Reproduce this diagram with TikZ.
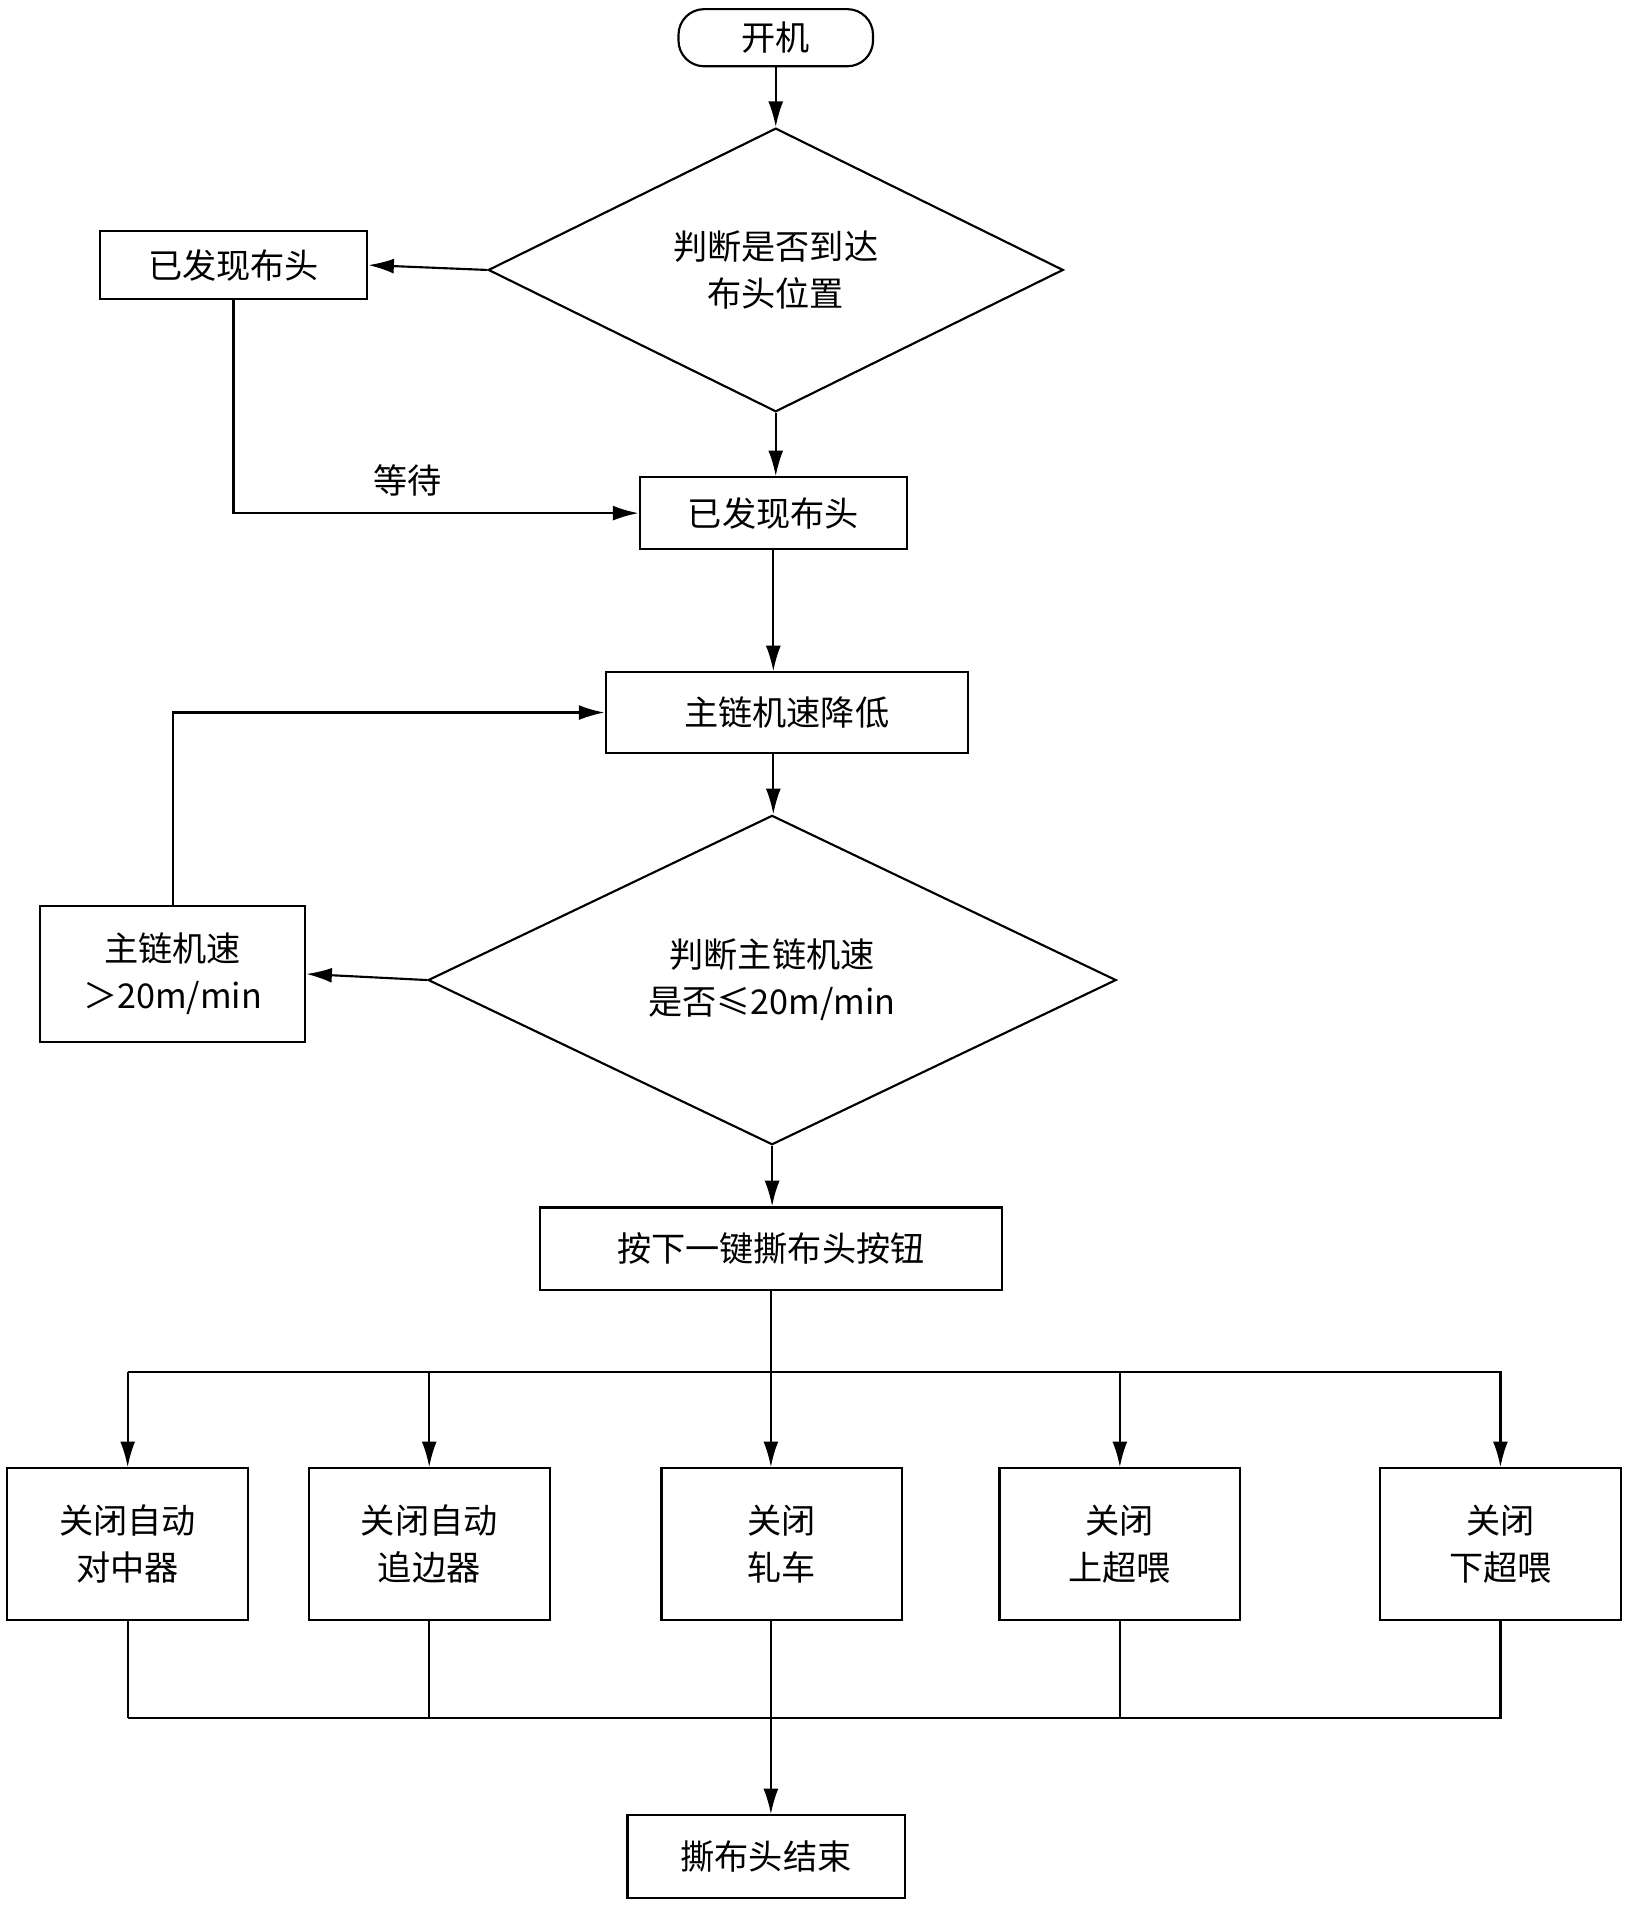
\documentclass[tikz,border=0pt]{standalone}
\usepackage{fontspec}
\setmainfont{Noto Sans CJK SC}
\usetikzlibrary{shapes.geometric,arrows.meta}
\begin{document}
\begin{tikzpicture}[x=0.02cm,y=-0.02cm,
  every node/.style={font=\fontsize{16}{22}\selectfont, align=center, inner sep=0pt},
  box/.style={draw, line width=1pt},
  dia/.style={draw, diamond, aspect=3.4, line width=1pt},
  ln/.style={line width=1pt},
  ar/.style={line width=1pt,-{Latex[length=12pt,width=7pt]}}]
\useasboundingbox (0,0) rectangle (1340,1570);
\node[box, rounded corners=12pt, minimum width=3.2cm, minimum height=0.94cm] (start) at (638,31) {开机};
\node[draw, line width=1pt, diamond, minimum width=9.46cm, minimum height=2.78cm, inner sep=0pt] (d1) at (638,222) {判断是否到达\\布头位置};
\node[box, minimum width=4.4cm, minimum height=1.12cm] (f1) at (192,218) {已发现布头};
\node[box, minimum width=4.4cm, minimum height=1.18cm] (f2) at (636,422) {已发现布头};
\node (wait) at (335,395) {等待};
\node[box, minimum width=5.96cm, minimum height=1.32cm] (slow) at (647,586) {主链机速降低};
\node[draw, line width=1pt, diamond, minimum width=11.32cm, minimum height=3.36cm, inner sep=0pt] (d2) at (635,806) {判断主链机速\\是否≤20m/min};
\node[box, minimum width=4.36cm, minimum height=2.24cm] (fast) at (142,801) {主链机速\\＞20m/min};
\node[box, minimum width=7.6cm, minimum height=1.36cm] (btn) at (634,1027) {按下一键撕布头按钮};
\foreach \n/\x/\t in {a/105/关闭自动\\对中器, b/353/关闭自动\\追边器, c/643/关闭\\轧车, d/921/关闭\\上超喂, e/1234/关闭\\下超喂}
  \node[box, minimum width=3.96cm, minimum height=2.5cm] (\n) at (\x,1270) {\t};
\node[box, minimum width=4.56cm, minimum height=1.36cm] (end) at (630,1527) {撕布头结束};
\draw[ar] (start) -- (d1);
\draw[ar] (d1.west) -- (f1.east);
\draw[ar] (d1.south) -- (f2.north-|d1.south);
\draw[ar] (f1.south) |- (f2.west);
\draw[ar] (f2.south-|636,0) -- (slow.north-|636,0);
\draw[ar] (slow.south-|636,0) -- (d2.north-|636,0);
\draw[ar] (d2.west) -- (fast.east);
\draw[ar] (fast.north) |- (slow.west);
\draw[ar] (d2.south) -- (btn.north-|d2.south);
\coordinate (s) at (634,1128);
\draw[ln] (btn.south) -- (s);
\draw[ln] (105,1128) -- (1235,1128);
\foreach \n/\x in {a/105,b/353,c/634,d/921,e/1234}
  \draw[ar] (\x,1128) -- (\n.north-|\x,0);
\coordinate (m) at (634,1413);
\draw[ln] (105,1413) -- (1235,1413);
\foreach \n/\x in {a/105,b/353,c/634,d/921,e/1234}
  \draw[ln] (\n.south-|\x,0) -- (\x,1413);
\draw[ar] (m) -- (end.north-|m);
\end{tikzpicture}
\end{document}
